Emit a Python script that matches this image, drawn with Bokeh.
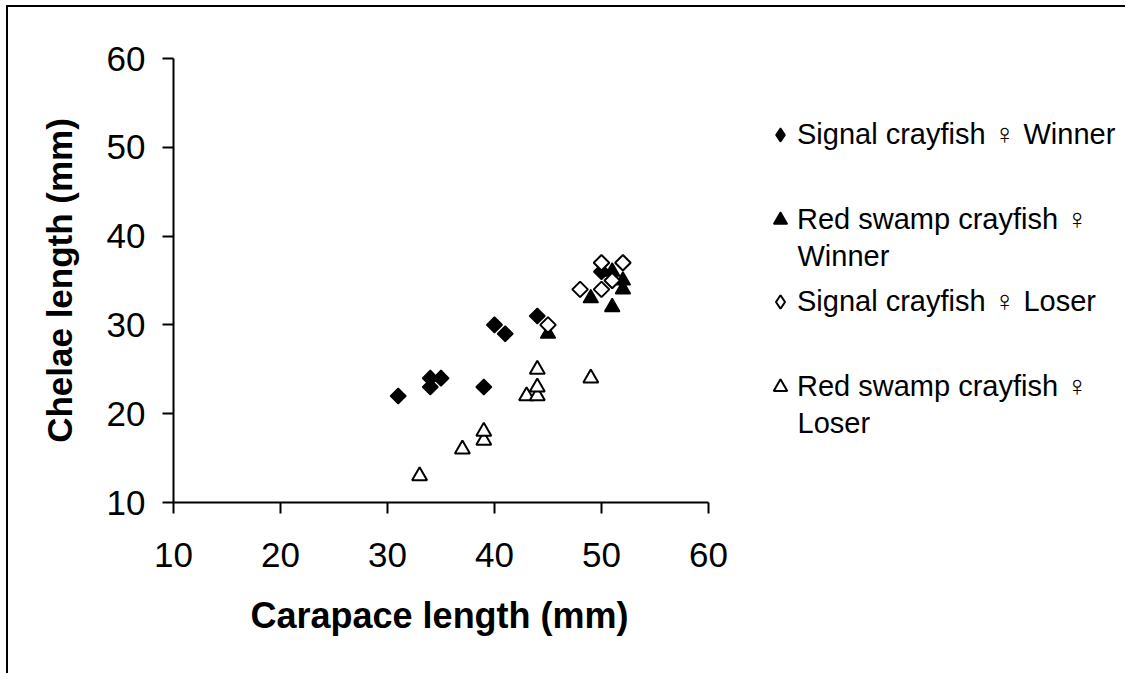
from bokeh.plotting import figure
from bokeh.models import Range1d, Legend, LegendItem, Label, Title
from bokeh.embed import file_html
from bokeh.resources import INLINE
import math

# ---- data ----
x_ticks = [10, 20, 30, 40, 50, 60]
y_ticks = [10, 20, 30, 40, 50, 60]

signal_winner_x = [31, 34, 34, 35, 39, 40, 41, 44, 50]
signal_winner_y = [22, 24, 23, 24, 23, 30, 29, 31, 36]

red_winner_x = [45, 49, 51, 51, 52, 52]
red_winner_y = [29, 33, 32, 36, 35, 34]

signal_loser_x = [45, 48, 50, 50, 51, 52]
signal_loser_y = [30, 34, 34, 37, 35, 37]

red_loser_x = [33, 37, 39, 39, 43, 44, 44, 44, 49]
red_loser_y = [13, 16, 17, 18, 22, 22, 23, 25, 24]

series_names = ["Signal crayfish \u2640 Winner",
                "Red swamp crayfish \u2640",
                "Signal crayfish \u2640 Loser",
                "Red swamp crayfish \u2640"]
second_lines = ["Winner", "Loser"]
x_title = "Carapace length (mm)"
y_title = "Chelae length (mm)"

FONT = "Liberation Sans"

# layout (pixels)
W, H = 1117, 666
LEFT, TOP = 165, 51          # canvas -> plot area
AXIS_PX = 535                # pixel length of the 10..60 axis
FRAME_H = 444
FRAME_W = W - LEFT           # frame extends to the right edge so the legend is not clipped
X_END = 10 + 50 * FRAME_W / AXIS_PX

p = figure(width=W, height=H, output_backend="svg", toolbar_location=None,
           x_range=Range1d(10, X_END), y_range=Range1d(10, 60),
           frame_width=FRAME_W, frame_height=FRAME_H,
           min_border_left=LEFT, min_border_top=TOP,
           min_border_right=0, min_border_bottom=H - TOP - FRAME_H)
p.styles = {"border-top": "2px solid black", "border-left": "2px solid black",
            "margin-left": "6px", "margin-top": "5px"}
p.outline_line_color = None
p.xgrid.visible = False
p.ygrid.visible = False
p.background_fill_color = "white"
p.border_fill_color = "white"

for ax in (p.xaxis[0], p.yaxis[0]):
    ax.axis_line_width = 2
    ax.axis_line_color = "black"
    ax.major_tick_line_width = 2
    ax.major_tick_line_color = "black"
    ax.major_tick_out = 11
    ax.major_tick_in = 0
    ax.minor_tick_line_color = None
    ax.major_label_text_font = FONT
    ax.major_label_text_font_size = "35px"
    ax.major_label_text_color = "black"

p.xaxis[0].bounds = (10, 60)
p.xaxis[0].ticker = x_ticks
p.yaxis[0].ticker = y_ticks
p.xaxis[0].major_label_standoff = 29
p.yaxis[0].major_label_standoff = 17

p.yaxis[0].axis_label = y_title
p.yaxis[0].axis_label_text_font = FONT
p.yaxis[0].axis_label_text_font_size = "35px"
p.yaxis[0].axis_label_text_font_style = "bold"
p.yaxis[0].axis_label_text_color = "black"
p.yaxis[0].axis_label_standoff = 25

# x-axis title centred under the 10..60 axis span
p.add_layout(Title(text=x_title, align="left", offset=77, standoff=46,
                   text_font=FONT, text_font_size="36px", text_font_style="bold",
                   text_color="black"), "below")

# legend swatches (diamond shape, since legend glyphs ignore marker angle);
# drawn first and small so the real markers cover them
k1 = p.scatter(signal_winner_x, signal_winner_y, marker="diamond", size=4,
               fill_color="black", line_color="black", line_width=1.5)
k3 = p.scatter(signal_loser_x, signal_loser_y, marker="diamond", size=4,
               fill_color="white", line_color="black", line_width=2)

r1 = p.scatter(signal_winner_x, signal_winner_y, marker="square", angle=math.pi / 4,
               size=11, fill_color="black", line_color="black", line_width=1.5)
r2 = p.scatter(red_winner_x, red_winner_y, marker="triangle",
               size=15, fill_color="black", line_color="black", line_width=1.5)
r3 = p.scatter(signal_loser_x, signal_loser_y, marker="square", angle=math.pi / 4,
               size=11, fill_color="white", line_color="black", line_width=2)
r4 = p.scatter(red_loser_x, red_loser_y, marker="triangle",
               size=15, fill_color="white", line_color="black", line_width=2)

# legend entries (frame-relative screen positions)
TEXT_X = 624  # legend text start, relative to frame left
GW = 34
LX = 590
entries = [
    (k1, series_names[0], 350),
    (r2, series_names[1], 265),
    (k3, series_names[2], 183),
    (r4, series_names[3], 98),
]
for rend, name, ly in entries:
    lg = Legend(items=[LegendItem(label=name, renderers=[rend])],
                location=(LX, ly), orientation="vertical",
                glyph_width=GW, glyph_height=35, label_height=35,
                label_standoff=TEXT_X - (LX + GW),
                padding=0, margin=0, spacing=0,
                border_line_color=None, background_fill_alpha=0,
                label_text_font=FONT, label_text_font_size="29px",
                label_text_color="black")
    p.add_layout(lg, "center")

for txt, ly in zip(second_lines, [247, 80]):
    p.add_layout(Label(x=TEXT_X, y=ly, x_units="screen", y_units="screen", text=txt,
                       text_font=FONT, text_font_size="29px",
                       text_color="black", text_align="left",
                       text_baseline="middle"))

open("out.html", "w").write(file_html(p, INLINE))
